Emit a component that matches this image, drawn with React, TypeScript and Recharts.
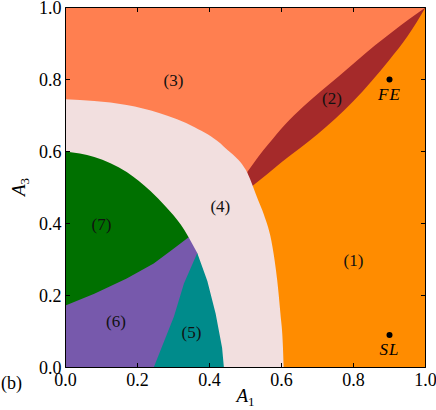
import React from 'react';
import { ComposedChart, Area, XAxis, YAxis, Scatter } from 'recharts';

// ---- data (A1, A3) ----
const TICKS = [0, 0.2, 0.4, 0.6, 0.8, 1.0];

// region (3) fills the whole square first
const region3Top: [number, number][] = [[0, 1], [1, 1]];

// upper boundary of region (2) (brown / coral)
const region2Top: [number, number][] = [
  [0.505, 0.543], [0.535, 0.585], [0.565, 0.622], [0.61, 0.675], [0.66, 0.724],
  [0.71, 0.768], [0.76, 0.81], [0.81, 0.853], [0.86, 0.895], [0.91, 0.934],
  [0.955, 0.968], [1.0, 1.0],
];

// upper boundary of region (1) (orange / brown)
const region1Top: [number, number][] = [
  [0.52, 0.505], [0.56, 0.537], [0.6, 0.57], [0.65, 0.608], [0.7, 0.648],
  [0.75, 0.692], [0.8, 0.74], [0.85, 0.795], [0.9, 0.855], [0.95, 0.92], [1.0, 1.0],
];

// outer boundary of region (4)
const region4Top: [number, number][] = [
  [0, 0.745], [0.08, 0.74], [0.17, 0.729], [0.26, 0.707], [0.36, 0.667],
  [0.43, 0.623], [0.45, 0.604], [0.47, 0.587], [0.49, 0.565], [0.505, 0.541],
  [0.52, 0.505], [0.535, 0.465], [0.551, 0.425], [0.575, 0.335], [0.588, 0.243],
  [0.597, 0.15], [0.604, 0.057], [0.606, 0],
];

// inner boundary of region (4) = top of region (7)
const region7Top: [number, number][] = [
  [0, 0.6], [0.08, 0.585], [0.17, 0.543], [0.236, 0.49], [0.28, 0.445],
  [0.32, 0.397], [0.342, 0.362],
];

// top of region (6)
const region6Top: [number, number][] = [
  [0, 0.172], [0.08, 0.205], [0.17, 0.247], [0.245, 0.289], [0.3, 0.33],
  [0.342, 0.362], [0.366, 0.318],
];

// top of region (5)
const region5Top: [number, number][] = [
  [0.245, 0], [0.264, 0.048], [0.301, 0.141], [0.329, 0.233], [0.366, 0.318],
  [0.394, 0.24], [0.417, 0.15], [0.435, 0.055], [0.44, 0],
];

const regionLabels = [
  { x: 0.8, y: 0.3, label: '(1)' },
  { x: 0.74, y: 0.75, label: '(2)' },
  { x: 0.3, y: 0.8, label: '(3)' },
  { x: 0.43, y: 0.45, label: '(4)' },
  { x: 0.35, y: 0.1, label: '(5)' },
  { x: 0.14, y: 0.13, label: '(6)' },
  { x: 0.1, y: 0.4, label: '(7)' },
];

const points = [
  { x: 0.9, y: 0.8, label: 'FE' },
  { x: 0.9, y: 0.09, label: 'SL' },
];

const COLORS = {
  r1: '#FF8C00',
  r2: '#A52A2A',
  r3: '#FF7F50',
  r4: '#F2DFDF',
  r5: '#008B8B',
  r6: '#7759AC',
  r7: '#007000',
};

const FONT = '"Liberation Serif", "Times New Roman", serif';
const toRows = (a: [number, number][]) => a.map(([x, y]) => ({ x, y }));

const fmt = (v: number) => v.toFixed(1);

const BottomTick = (p: any) => (
  <g>
    <line x1={p.x} x2={p.x} y1={p.y} y2={p.y - 4.5} stroke="#000" strokeWidth={1} />
    <text x={p.x} y={p.y + 18} textAnchor="middle" fontFamily={FONT} fontSize={18} fill="#000">
      {fmt(p.payload.value)}
    </text>
  </g>
);
const TopTick = (p: any) => (
  <line x1={p.x} x2={p.x} y1={p.y} y2={p.y + 4.5} stroke="#000" strokeWidth={1} />
);
const LeftTick = (p: any) => (
  <g>
    <line x1={p.x} x2={p.x + 4.5} y1={p.y} y2={p.y} stroke="#000" strokeWidth={1} />
    <text x={p.x - 4} y={p.y + 6} textAnchor="end" fontFamily={FONT} fontSize={18} fill="#000">
      {fmt(p.payload.value)}
    </text>
  </g>
);
const RightTick = (p: any) => (
  <line x1={p.x} x2={p.x - 4.5} y1={p.y} y2={p.y} stroke="#000" strokeWidth={1} />
);

const RegionLabel = (p: any) => (
  <text x={p.cx} y={p.cy + 6} textAnchor="middle" fontFamily={FONT} fontSize={17} fill="#111">
    {p.payload.label}
  </text>
);

const PointMark = (p: any) => (
  <g>
    <circle cx={p.cx} cy={p.cy} r={3} fill="#000" />
    <text x={p.cx} y={p.cy + 20} textAnchor="middle" fontFamily={FONT} fontStyle="italic"
      fontSize={17} letterSpacing={1} fill="#000">
      {p.payload.label}
    </text>
  </g>
);

const area = (data: [number, number][], color: string, key: string, smooth: boolean) => (
  <Area
    key={key}
    data={toRows(data)}
    dataKey="y"
    type={smooth ? 'monotone' : 'linear'}
    fill={color}
    fillOpacity={1}
    stroke="none"
    dot={false}
    activeDot={false}
    isAnimationActive={false}
  />
);

export default function App() {
  return (
    <div style={{ position: 'absolute', left: 0, top: 0, width: 436, height: 410 }}>
      <ComposedChart
        width={436}
        height={410}
        margin={{ top: 6.5, right: 9.5, bottom: 41.5, left: 64.5 }}
      >
        <XAxis dataKey="x" type="number" domain={[0, 1]} ticks={TICKS} allowDataOverflow
          height={1} tickSize={0} tickMargin={0} tickLine={false} interval={0}
          axisLine={{ stroke: '#000', strokeWidth: 1 }} tick={BottomTick} />
        <XAxis xAxisId="top" orientation="top" dataKey="x" type="number" domain={[0, 1]} ticks={TICKS}
          allowDataOverflow height={1} tickSize={0} tickMargin={0} tickLine={false} interval={0}
          axisLine={{ stroke: '#000', strokeWidth: 1 }} tick={TopTick} />
        <YAxis type="number" domain={[0, 1]} ticks={TICKS} allowDataOverflow width={1}
          tickSize={0} tickMargin={0} tickLine={false} interval={0}
          axisLine={{ stroke: '#000', strokeWidth: 1 }} tick={LeftTick} />
        <YAxis yAxisId="right" orientation="right" type="number" domain={[0, 1]} ticks={TICKS}
          allowDataOverflow width={1} tickSize={0} tickMargin={0} tickLine={false} interval={0}
          axisLine={{ stroke: '#000', strokeWidth: 1 }} tick={RightTick} />

        {area(region3Top, COLORS.r3, 'r3', false)}
        {area(region2Top, COLORS.r2, 'r2', true)}
        {area(region1Top, COLORS.r1, 'r1', true)}
        {area(region4Top, COLORS.r4, 'r4', true)}
        {area(region7Top, COLORS.r7, 'r7', true)}
        {area(region6Top, COLORS.r6, 'r6', false)}
        {area(region5Top, COLORS.r5, 'r5', false)}

        <Scatter data={regionLabels} dataKey="y" shape={RegionLabel} isAnimationActive={false} />
        <Scatter data={points} dataKey="y" shape={PointMark} isAnimationActive={false} />
      </ComposedChart>
      <svg width={436} height={410} style={{ position: 'absolute', left: 0, top: 0, pointerEvents: 'none' }}>
        <text x={245.5} y={402} textAnchor="middle" fontFamily={FONT} fontSize={19} fill="#000">
          <tspan fontStyle="italic">A</tspan>
          <tspan fontSize={13} dy={3.5}>1</tspan>
        </text>
        <text x={25} y={187} textAnchor="middle" fontFamily={FONT} fontSize={19} fill="#000"
          transform="rotate(-90 25 187)">
          <tspan fontStyle="italic">A</tspan>
          <tspan fontSize={13} dy={3.5}>3</tspan>
        </text>
        <text x={1} y={389} fontFamily={FONT} fontSize={18} fill="#000">(b)</text>
      </svg>
    </div>
  );
}
